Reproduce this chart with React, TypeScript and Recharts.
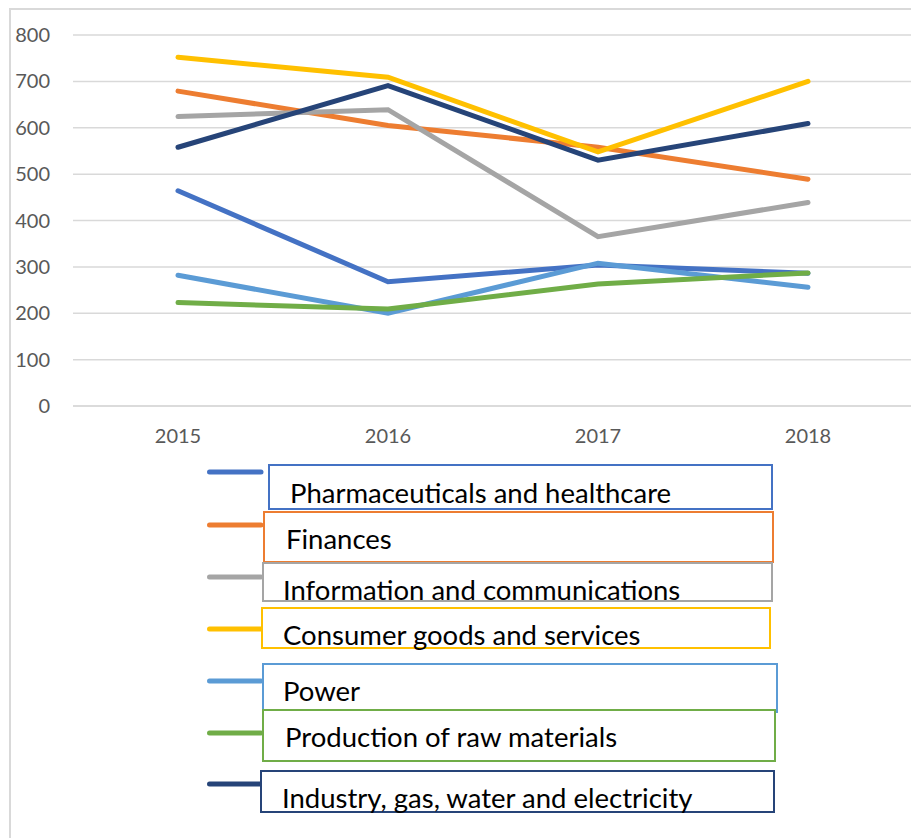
import { LineChart, Line, XAxis, YAxis, CartesianGrid, Legend } from "recharts";

const years = ["2015", "2016", "2017", "2018"];
const pharma = [464, 268, 304, 286];
const finances = [679, 605, 558, 489];
const info = [624, 639, 365, 439];
const consumer = [752, 709, 548, 700];
const power = [282, 200, 308, 256];
const rawMaterials = [223, 209, 263, 287];
const industry = [558, 691, 530, 609];
const yTicks = [0, 100, 200, 300, 400, 500, 600, 700, 800];

const series = [
  { key: "pharma", name: "Pharmaceuticals and healthcare", values: pharma, color: "#4472C4" },
  { key: "finances", name: "Finances", values: finances, color: "#ED7D31" },
  { key: "info", name: "Information and communications", values: info, color: "#A5A5A5" },
  { key: "consumer", name: "Consumer goods and services", values: consumer, color: "#FFC000" },
  { key: "power", name: "Power", values: power, color: "#5B9BD5" },
  { key: "raw", name: "Production of raw materials", values: rawMaterials, color: "#70AD47" },
  { key: "industry", name: "Industry, gas, water and electricity", values: industry, color: "#264478" },
];

const data = years.map((year, i) => {
  const row: { [k: string]: string | number } = { year };
  series.forEach((s) => (row[s.key] = s.values[i]));
  return row;
});

// legend boxes are drawn by hand, page coordinates
const ORIGIN_X = 11;
const ORIGIN_Y = 455;
const legendBoxes: { [k: string]: number[] } = {
  // boxX, boxY, boxW, boxH, textX, baseline, swatchY
  pharma: [269, 465, 503, 44, 290, 503, 472],
  finances: [264, 512, 509, 50, 286, 549, 525],
  info: [263, 563, 509, 38, 283, 600, 577],
  consumer: [262, 608, 508, 40, 283, 645, 629],
  power: [263, 664, 514, 48, 283, 701, 681],
  raw: [263, 710, 512, 51, 285, 747, 733],
  industry: [261, 771, 513, 41, 282, 808, 784],
};

function BoxLegend(props: any) {
  const payload = props.payload || [];
  return (
    <svg width={908} height={380} style={{ display: "block" }}>
      {payload.map((entry: any) => {
        const b = legendBoxes[entry.dataKey];
        if (!b) return null;
        const [bx, by, bw, bh, tx, base, sy] = b;
        return (
          <g key={entry.dataKey}>
            <line
              x1={209.5 - ORIGIN_X}
              x2={261 - ORIGIN_X}
              y1={sy - ORIGIN_Y}
              y2={sy - ORIGIN_Y}
              stroke={entry.color}
              strokeWidth={5}
              strokeLinecap="round"
            />
            <rect
              x={bx - ORIGIN_X}
              y={by - ORIGIN_Y}
              width={bw}
              height={bh}
              fill="#fff"
              stroke={entry.color}
              strokeWidth={2}
            />
            <text
              x={tx - ORIGIN_X}
              y={base - ORIGIN_Y}
              fontFamily="Lato"
              fontSize={27.5}
              fill="#000"
            >
              {entry.value}
            </text>
          </g>
        );
      })}
    </svg>
  );
}

export default function App() {
  return (
    <div
      style={{
        marginLeft: 1,
        width: 908,
        height: 830,
        borderLeft: "2px solid #d9d9d9",
        borderTop: "2px solid #d9d9d9",
        background: "#fff",
      }}
    >
      <LineChart
        width={908}
        height={828}
        data={data}
        margin={{ top: 25, right: 6, left: 0, bottom: 392 }}
      >
        <CartesianGrid vertical={false} stroke="#d9d9d9" strokeWidth={1.5} />
        <XAxis
          dataKey="year"
          height={40}
          padding={{ left: 105, right: 105 }}
          axisLine={{ stroke: "#d9d9d9", strokeWidth: 1.5 }}
          tickLine={false}
          tickMargin={17}
          tick={{ fontFamily: "Lato", fontSize: 20, fill: "#595959" }}
        />
        <YAxis
          width={62}
          domain={[0, 800]}
          ticks={yTicks}
          axisLine={false}
          tickLine={false}
          tickMargin={17}
          tick={{ fontFamily: "Lato", fontSize: 20, fill: "#595959" }}
        />
        <Legend
          layout="vertical"
          align="center"
          verticalAlign="middle"
          content={BoxLegend}
          wrapperStyle={{ left: 0, top: ORIGIN_Y - 10, width: 908, height: 380 }}
        />
        {series.map((s) => (
          <Line
            key={s.key}
            type="linear"
            dataKey={s.key}
            name={s.name}
            stroke={s.color}
            strokeWidth={5}
            strokeLinecap="round"
            dot={false}
            activeDot={false}
            isAnimationActive={false}
          />
        ))}
      </LineChart>
    </div>
  );
}
